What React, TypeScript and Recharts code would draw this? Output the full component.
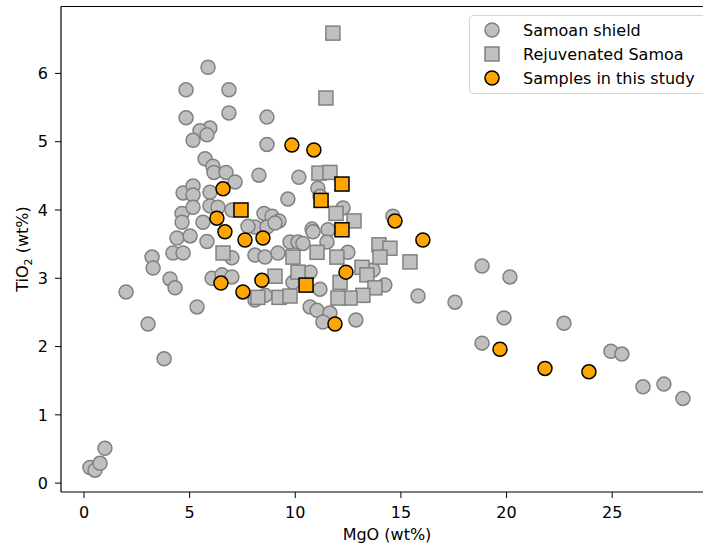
import { ScatterChart, Scatter, XAxis, YAxis, ReferenceLine, Label } from "recharts";

// Samoan shield lavas (grey circles)
const shieldMgO = [
  5.87, 4.83, 6.86, 4.83, 6.86, 8.66, 5.96, 5.49, 5.82, 5.16, 8.66, 5.73, 6.1, 6.15, 6.72, 7.15,
  8.28, 10.17, 4.69, 5.16, 5.16, 5.96, 9.65, 11.07, 11.17, 4.64, 5.16, 5.96, 6.34, 7.0, 8.52, 8.9,
  9.23, 12.26, 10.79, 11.55, 11.5, 14.62, 4.4, 5.02, 5.82, 8.09, 8.66, 9.04, 9.75, 10.13, 10.36,
  10.84, 4.21, 4.69, 3.22, 3.27, 4.07, 4.31, 1.99, 5.35, 3.03, 3.79, 6.06, 6.53, 7.0, 7.0, 8.09,
  8.57, 9.18, 10.7, 9.89, 11.17, 8.57, 8.09, 10.7, 11.03, 11.64, 11.31, 12.87, 12.49, 13.68,
  14.24, 15.81, 17.56, 18.84, 20.16, 19.88, 18.84, 22.72, 24.94, 25.46, 26.46, 27.45, 28.35,
  0.28, 0.52, 0.76, 0.99, 4.64, 5.63, 7.76,
];
const shieldTiO2 = [
  6.09, 5.76, 5.76, 5.35, 5.42, 5.36, 5.2, 5.16, 5.1, 5.02, 4.96, 4.75, 4.64, 4.55, 4.55, 4.41,
  4.51, 4.48, 4.25, 4.35, 4.22, 4.26, 4.16, 4.32, 4.2, 3.95, 4.04, 4.06, 4.04, 4.0, 3.95, 3.91,
  3.84, 4.03, 3.72, 3.71, 3.53, 3.91, 3.59, 3.62, 3.54, 3.75, 3.75, 3.81, 3.53, 3.53, 3.51,
  3.68, 3.37, 3.37, 3.31, 3.15, 2.99, 2.86, 2.8, 2.58, 2.33, 1.82, 3.0, 3.05, 3.02, 3.3, 3.34,
  3.31, 3.37, 3.09, 2.94, 2.84, 2.75, 2.68, 2.58, 2.53, 2.49, 2.36, 2.39, 3.38, 3.12,
  2.9, 2.74, 2.65, 3.18, 3.02, 2.42, 2.05, 2.34, 1.93, 1.89, 1.41, 1.45, 1.24,
  0.23, 0.19, 0.29, 0.51, 3.82, 3.82, 3.76,
];

// Rejuvenated Samoa (grey squares)
const rejuvMgO = [
  11.78, 11.45, 11.12, 11.64, 11.93, 12.78, 13.96, 14.48, 14.01, 15.43, 11.97, 13.16, 13.39,
  13.77, 13.2, 12.59, 12.02, 12.12, 9.89, 11.03, 9.04, 10.13, 8.23, 9.23, 9.75, 6.58,
];
const rejuvTiO2 = [
  6.59, 5.64, 4.54, 4.55, 3.95, 3.84, 3.49, 3.44, 3.31, 3.24, 3.31, 3.16, 3.05,
  2.86, 2.75, 2.71, 2.71, 2.94, 3.31, 3.38, 3.03, 3.09, 2.72, 2.72, 2.74, 3.37,
];

// Samples in this study (orange circles)
const studyMgO = [
  9.84, 10.88, 6.58, 6.29, 6.67, 7.62, 8.47, 14.72, 16.04, 6.48, 7.52, 8.42, 12.4, 11.88,
  19.69, 21.82, 23.9,
];
const studyTiO2 = [
  4.95, 4.88, 4.31, 3.88, 3.68, 3.56, 3.59, 3.84, 3.56, 2.93, 2.8, 2.97, 3.09, 2.33,
  1.96, 1.68, 1.63,
];

// Samples in this study, rejuvenated (orange squares)
const studyRejMgO = [7.43, 12.21, 11.22, 12.21, 10.51];
const studyRejTiO2 = [4.0, 4.38, 4.14, 3.71, 2.9];

const xTicks = [0, 5, 10, 15, 20, 25];
const yTicks = [0, 1, 2, 3, 4, 5, 6];
const X_DOMAIN: [number, number] = [-1.09, 29.3];
const Y_DOMAIN: [number, number] = [-0.13, 6.98];

const legendItems = [
  { name: "Samoan shield", kind: "circle", fill: "#c0c0c0", stroke: "#808080" },
  { name: "Rejuvenated Samoa", kind: "square", fill: "#c0c0c0", stroke: "#808080" },
  { name: "Samples in this study", kind: "circle", fill: "#ffa500", stroke: "#000000" },
];

const zip = (xs: number[], ys: number[]) => xs.map((x, i) => ({ x, y: ys[i] }));

const shieldData = zip(shieldMgO, shieldTiO2);
const rejuvData = zip(rejuvMgO, rejuvTiO2);
const studyData = zip(studyMgO, studyTiO2);
const studyRejData = zip(studyRejMgO, studyRejTiO2);

const FONT = "'DejaVu Sans', sans-serif";

const circle = (fill: string, stroke: string) => (p: any) =>
  <circle cx={p.cx} cy={p.cy} r={7} fill={fill} stroke={stroke} strokeWidth={1.5} />;

const square = (fill: string, stroke: string) => (p: any) =>
  <rect x={p.cx - 7} y={p.cy - 7} width={14} height={14} fill={fill} stroke={stroke} strokeWidth={1.5} />;

function LegendBox() {
  return (
    <div
      style={{
        position: "absolute",
        left: 469,
        top: 15,
        width: 260,
        height: 75,
        border: "1px solid #d6d6d6",
        borderRadius: 4,
        background: "rgba(255,255,255,0.8)",
        paddingTop: 2,
        boxSizing: "content-box",
        fontFamily: FONT,
        fontSize: 16,
        color: "#000",
      }}
    >
      {legendItems.map((it) => (
        <div key={it.name} style={{ height: 24, display: "flex", alignItems: "center" }}>
          <svg width={18} height={18} style={{ marginLeft: 13, marginRight: 22 }}>
            {it.kind === "circle" ? (
              <circle cx={9} cy={9} r={7} fill={it.fill} stroke={it.stroke} strokeWidth={1.5} />
            ) : (
              <rect x={2} y={2} width={14} height={14} fill={it.fill} stroke={it.stroke} strokeWidth={1.5} />
            )}
          </svg>
          <span style={{ whiteSpace: "nowrap" }}>{it.name}</span>
        </div>
      ))}
    </div>
  );
}

export default function App() {
  return (
    <div style={{ position: "absolute", left: 0, top: 0, width: 703, height: 547, overflow: "hidden", background: "#fff" }}>
      <ScatterChart width={703} height={547} margin={{ top: 6.5, right: 0, bottom: 0, left: 0 }}>
        <XAxis
          type="number"
          dataKey="x"
          domain={X_DOMAIN}
          ticks={xTicks}
          allowDataOverflow
          height={55}
          tickSize={6}
          tickMargin={9}
          axisLine={{ stroke: "#000", strokeWidth: 1.2 }}
          tickLine={{ stroke: "#000", strokeWidth: 1 }}
          tick={{ fill: "#000", fontSize: 16, fontFamily: FONT }}
        >
          <Label
            content={() => (
              <text x={387} y={540} textAnchor="middle" fontSize={16} fontFamily={FONT} fill="#000">
                MgO (wt%)
              </text>
            )}
          />
        </XAxis>
        <YAxis
          type="number"
          dataKey="y"
          domain={Y_DOMAIN}
          ticks={yTicks}
          allowDataOverflow
          width={61}
          tickSize={6}
          tickMargin={7}
          axisLine={{ stroke: "#000", strokeWidth: 1.2 }}
          tickLine={{ stroke: "#000", strokeWidth: 1 }}
          tick={{ fill: "#000", fontSize: 16, fontFamily: FONT }}
        >
          <Label
            content={() => (
              <text
                x={28}
                y={249}
                transform="rotate(-90, 28, 249)"
                textAnchor="middle"
                fontSize={16}
                fontFamily={FONT}
                fill="#000"
              >
                TiO<tspan fontSize={11} dy={4}>2</tspan>
                <tspan dy={-4}> (wt%)</tspan>
              </text>
            )}
          />
        </YAxis>
        <ReferenceLine y={Y_DOMAIN[1]} stroke="#000" strokeWidth={1.2} />
        <Scatter data={shieldData} shape={circle("#c0c0c0", "#808080")} isAnimationActive={false} />
        <Scatter data={rejuvData} shape={square("#c0c0c0", "#808080")} isAnimationActive={false} />
        <Scatter data={studyData} shape={circle("#ffa500", "#000")} isAnimationActive={false} />
        <Scatter data={studyRejData} shape={square("#ffa500", "#000")} isAnimationActive={false} />
      </ScatterChart>
      <LegendBox />
    </div>
  );
}
